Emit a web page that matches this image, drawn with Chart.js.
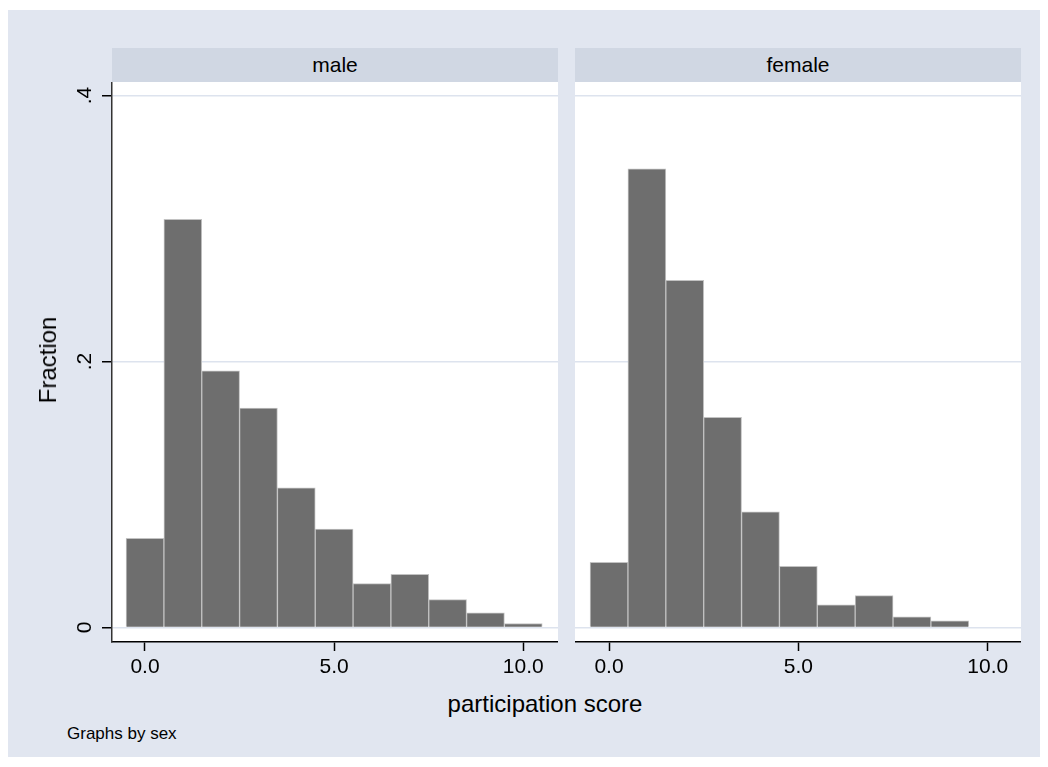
<!DOCTYPE html>
<html>
<head>
<meta charset="utf-8">
<script src="https://cdn.jsdelivr.net/npm/chart.js@4"></script>
<style>
  body { margin: 0; background: #fff; font-family: "Liberation Sans", Arial, sans-serif; }
  #bg { position: absolute; left: 8px; top: 10px; width: 1032px; height: 747px; background: #e1e6f0; }
  .strip { position: absolute; top: 48px; height: 34px; line-height: 34px; background: #d0d7e3;
           text-align: center; font-size: 21px; color: #000; }
  .txt { position: absolute; color: #000; white-space: nowrap; }
  canvas { position: absolute; }
</style>
</head>
<body>
<div id="bg"></div>
<div class="strip" style="left:112px;width:446px;">male</div>
<div class="strip" style="left:575px;width:446px;">female</div>
<canvas id="male" width="502" height="600" style="left:56px;top:82px;"></canvas>
<canvas id="female" width="446" height="600" style="left:575px;top:82px;"></canvas>
<div class="txt" style="left:48px;top:360px;font-size:24px;transform:translate(-50%,-50%) rotate(-90deg);">Fraction</div>
<div class="txt" style="left:545px;top:704px;font-size:24px;transform:translate(-50%,-50%);">participation score</div>
<div class="txt" style="left:67px;top:724px;font-size:17px;">Graphs by sex</div>
<script>
// bin midpoints (participation score) and fraction per bin
const binsMale = [0, 1, 2, 3, 4, 5, 6, 7, 8, 9, 10];
const fracMale = [0.067, 0.307, 0.193, 0.165, 0.105, 0.074, 0.033, 0.040, 0.021, 0.011, 0.003];
const binsFemale = [0, 1, 2, 3, 4, 5, 6, 7, 8, 9];
const fracFemale = [0.049, 0.345, 0.261, 0.158, 0.087, 0.046, 0.017, 0.024, 0.008, 0.005];

const xTicks = [0, 5, 10];
const xTickLabels = ["0.0", "5.0", "10.0"];
const yTicks = [0, 0.2, 0.4];
const yTickLabels = ["0", ".2", ".4"];

const tickFont = { family: "Liberation Sans", size: 21 };

// white plot region
const plotBg = {
  id: "plotBg",
  beforeDraw(chart) {
    const a = chart.chartArea, ctx = chart.ctx;
    ctx.save();
    ctx.fillStyle = "#fff";
    ctx.fillRect(a.left, a.top, a.right - a.left, a.bottom - a.top);
    ctx.restore();
  }
};

function makeConfig(bins, frac, xMin, xMax, showY) {
  return {
    type: "bar",
    data: {
      datasets: [{
        data: bins.map((b, i) => ({ x: b, y: frac[i] })),
        backgroundColor: "#6e6e6e",
        borderColor: "#c2c2c2",
        borderWidth: 1,
        barPercentage: 1,
        categoryPercentage: 1
      }]
    },
    options: {
      responsive: false,
      animation: false,
      devicePixelRatio: 1,
      layout: { padding: 0 },
      plugins: { legend: { display: false }, tooltip: { enabled: false } },
      scales: {
        x: {
          type: "linear",
          min: xMin,
          max: xMax,
          offset: false,
          afterBuildTicks: s => { s.ticks = xTicks.map(v => ({ value: v })); },
          afterFit: s => { s.height = 40; s.paddingLeft = 0; s.paddingRight = 0; },
          ticks: {
            callback: v => xTickLabels[xTicks.indexOf(v)],
            font: tickFont, color: "#000", padding: 4, maxRotation: 0, autoSkip: false
          },
          grid: { offset: false, drawOnChartArea: false, tickLength: 9, tickColor: "#000", tickWidth: 1.5 },
          border: { color: "#000", width: 1.5 }
        },
        y: {
          min: -0.0109,
          max: 0.4102,
          afterBuildTicks: s => { s.ticks = yTicks.map(v => ({ value: v })); },
          afterFit: s => { s.width = showY ? 56 : 0; s.paddingTop = 0; s.paddingBottom = 0; },
          ticks: {
            display: showY,
            callback: v => yTickLabels[yTicks.indexOf(v)],
            font: tickFont, color: "#000",
            minRotation: 90, maxRotation: 90, crossAlign: "center", padding: 8
          },
          grid: { color: "#dde3ee", lineWidth: 1.5, drawTicks: showY, tickLength: 10, tickColor: "#000", tickWidth: 1.5 },
          border: { display: showY, color: "#333", width: 1.5 }
        }
      }
    },
    plugins: [plotBg]
  };
}

new Chart(document.getElementById("male"), makeConfig(binsMale, fracMale, -0.872, 10.917, true));
new Chart(document.getElementById("female"), makeConfig(binsFemale, fracFemale, -0.898, 10.879, false));
</script>
</body>
</html>
